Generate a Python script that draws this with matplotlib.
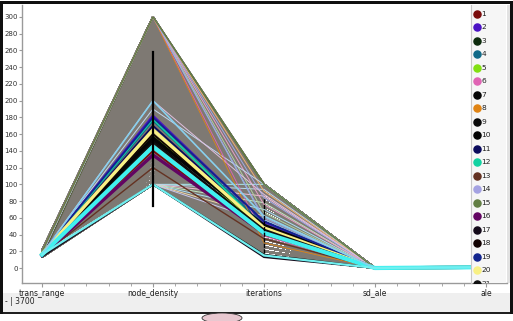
# Parallel coordinates view of the simulation runs (3700 rows)

import matplotlib
matplotlib.use("Agg")
import matplotlib.pyplot as plt
from matplotlib.collections import LineCollection
from matplotlib.patches import Rectangle, Ellipse


# =========================
# 1. Data
# =========================

attributes = ["trans_range", "node_density", "iterations", "sd_ale", "ale"]

# parameter grid of the runs (drawn as the gray background)
trans_range_levels = [13, 15, 17, 19, 21]
node_density_levels = [100, 105, 110, 115, 120, 125, 130, 135, 140, 145, 150,
                       155, 160, 165, 170, 175, 180, 185, 190, 195, 200, 205,
                       210, 215, 220, 225, 230, 235, 240, 245, 250, 255, 260,
                       265, 270, 275, 280, 285, 290, 295, 300]
iterations_levels = [15, 20, 25, 30, 35, 40, 45, 50, 55, 60, 65, 70, 75, 80,
                     85, 90, 95, 100]
sd_ale_value = 0
ale_value = 1

# one representative run per class
class_labels = ["1", "2", "3", "4", "5", "6", "7", "8", "9", "10", "11", "12",
                "13", "14", "15", "16", "17", "18", "19", "20", "21"]
class_colors = ["#7a0c0c", "#4a12c4", "#0c2a0c", "#116a88", "#82e012",
                "#e064b4", "#050505", "#e08414", "#080808", "#030303",
                "#0a0a5c", "#12d2a2", "#643222", "#a4a2e2", "#627e44",
                "#620462", "#140a1a", "#120202", "#12248e", "#f8f084",
                "#101010"]
class_trans = [16, 17, 16, 17, 18, 18, 16, 19, 15, 15, 17, 17, 15, 18, 19, 15,
               14, 16, 18, 17, 16]
class_node = [140, 182, 157, 176, 160, 300, 155, 300, 152, 100, 170, 178, 120,
              300, 300, 135, 100, 160, 180, 165, 150]
class_iter = [40, 55, 48, 52, 45, 38, 51, 30, 45, 16, 50, 48, 35, 60, 100, 42,
              13, 50, 56, 48, 46]
class_widths = [1.3, 1.6, 1.3, 1.3, 1.0, 0.6, 2.4, 0.6, 1.3, 1.3, 1.3, 1.3,
                1.0, 0.6, 1.0, 2.4, 1.3, 1.3, 1.3, 2.4, 1.3]

# light runs fanning out of node_density 100 and 300
fan_node = [100, 100, 100, 100, 100, 100, 100, 300, 300, 300, 300, 300, 190, 200]
fan_iter = [100, 94, 86, 78, 70, 62, 55, 92, 84, 76, 66, 58, 100, 88]
fan_colors = ["#a8ecf0", "#b8d8f0", "#f0c0d8", "#c0e8c0", "#a8e0f8",
              "#f0d8a8", "#c8c8f0", "#f0b070", "#a0a8e8", "#e8a0c8",
              "#b0d0a0", "#90c0e8", "#c0d8f0", "#e0c0e0"]

# cyan highlighted runs
cyan_node = [145, 200, 100]
cyan_iter = [42, 62, 15]
cyan_colors = ["#40f0f0", "#88d0ee", "#70f0f0"]
cyan_widths = [3.0, 1.2, 1.6]

# mean and standard deviation markers
node_mean, node_std = 166, 92
iter_mean, iter_std = 51, 33


# =========================
# 2. Figure helpers
# =========================

W, H = 513, 321


def fig_box(x0, y0, x1, y1):
    """Pixel box (top-left origin) to figure fraction rect."""
    return [x0 / W, 1 - y1 / H, (x1 - x0) / W, (y1 - y0) / H]


def add_rect(fig, x0, y0, x1, y1, color, z=0):
    l, b, w, h = fig_box(x0, y0, x1, y1)
    fig.add_artist(Rectangle((l, b), w, h, transform=fig.transFigure,
                             facecolor=color, edgecolor="none", zorder=z))


def run_line(trans, node, it):
    return [(0, trans), (1, node), (2, it), (3, sd_ale_value), (4, ale_value)]


def draw_run(ax, trans, node, it, color, lw, z):
    pts = run_line(trans, node, it)
    ax.plot([p[0] for p in pts], [p[1] for p in pts], color=color, lw=lw,
            zorder=z, solid_joinstyle="miter")


# =========================
# 3. Plot
# =========================

fig = plt.figure(figsize=(W / 100, H / 100), dpi=100)
fig.patch.set_facecolor("white")

ax = fig.add_axes(fig_box(22, 5, 507, 283))
ax.set_xlim(-0.18, 4.19)
ax.set_ylim(-17.9, 314.3)

# gray background of all runs
segments = []
for t in trans_range_levels:
    for n in node_density_levels:
        for it in iterations_levels:
            segments.append(run_line(t, n, it))
ax.add_collection(LineCollection(segments, colors="#7e7973", linewidths=1.3,
                                 zorder=1))

# outline of the gray band
draw_run(ax, 13, 300, 100, "#55603f", 1.0, 2)
draw_run(ax, 13, 100, 15, "#2a2a30", 1.0, 2)

# fan of light runs
for n, it, c in zip(fan_node, fan_iter, fan_colors):
    draw_run(ax, 17, n, it, c, 0.7, 2)

# class runs
for t, n, it, c, lw in zip(class_trans, class_node, class_iter, class_colors,
                           class_widths):
    draw_run(ax, t, n, it, c, lw, 3)

# cyan highlights
for n, it, c, lw in zip(cyan_node, cyan_iter, cyan_colors, cyan_widths):
    draw_run(ax, 16, n, it, c, lw, 4)

# statistics markers
ax.plot([1, 1], [node_mean - node_std, node_mean + node_std], color="black",
        lw=1.6, zorder=5)
ax.plot([2, 2], [iter_mean - iter_std, iter_mean + iter_std], color="black",
        lw=1.0, ls=(0, (3, 1)), zorder=5)

# axes styling
for side in ("top", "right"):
    ax.spines[side].set_visible(False)
for side in ("left", "bottom"):
    ax.spines[side].set_color("#9a9a9a")
    ax.spines[side].set_linewidth(1.0)

ax.set_yticks(range(0, 301, 20))
ax.tick_params(axis="y", labelsize=5, colors="#9a9a9a", labelcolor="#303030",
               length=2, pad=1)
ax.set_xticks(range(len(attributes)))
ax.set_xticklabels(attributes)
ax.set_xticks([i / 5 for i in range(0, 21) if i % 5], minor=True)
ax.tick_params(axis="x", which="major", labelsize=5.5, colors="#9a9a9a",
               labelcolor="#202020", length=3, pad=1)
ax.tick_params(axis="x", which="minor", colors="#9a9a9a", length=2)

# =========================
# 4. Legend column
# =========================

lax = fig.add_axes(fig_box(471, 5, 506, 283))
lax.set_xlim(471, 506)
lax.set_ylim(283, 5)
lax.set_facecolor("#f6f6f6")
lax.set_xticks([])
lax.set_yticks([])
for side in ("top", "right", "bottom"):
    lax.spines[side].set_visible(False)
lax.spines["left"].set_color("#c8c8c8")

for k, (lab, c) in enumerate(zip(class_labels, class_colors)):
    y = 14 + 13.5 * k
    lax.scatter([477], [y], s=26, color=c, zorder=3, clip_on=True)
    lax.text(481.5, y, lab, fontsize=5.4, color="#202020", va="center",
             ha="left", clip_on=True)

# =========================
# 5. Window chrome
# =========================

add_rect(fig, 506, 5, 510, 283, "#e2e2e2")
add_rect(fig, 0, 293, 510, 312, "#efefef")
add_rect(fig, 0, 312, 513, 314, "#202020")
add_rect(fig, 0, 1, 513, 4, "#101010", z=5)
add_rect(fig, 0, 1, 2.5, 314, "#101010", z=5)
add_rect(fig, 509.5, 1, 513, 314, "#101010", z=5)
fig.add_artist(Ellipse((222 / W, 1 - 318 / H), 40 / W, 10 / H,
                       transform=fig.transFigure, facecolor="#e8c8d0",
                       edgecolor="#303030", lw=0.6))
fig.text(5 / W, 1 - 301 / H, "- | 3700", fontsize=5.5, color="#202020",
         va="center", ha="left")

fig.savefig("out.png", dpi=100)
